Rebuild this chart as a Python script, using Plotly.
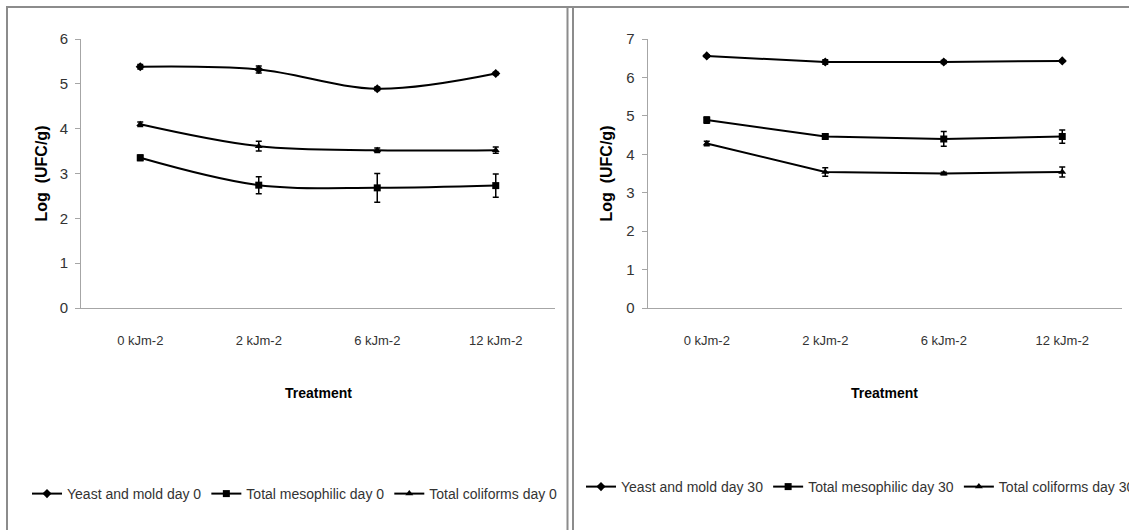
import plotly.graph_objects as go

W, H = 1129, 530

categories = ["0 kJm-2", "2 kJm-2", "6 kJm-2", "12 kJm-2"]

# Day 0 panel
yeast_d0 = [5.38, 5.32, 4.89, 5.23]
yeast_d0_err = [0.05, 0.08, 0.04, 0.03]
meso_d0 = [3.35, 2.74, 2.68, 2.73]
meso_d0_err = [0.06, 0.19, 0.32, 0.26]
coli_d0 = [4.10, 3.61, 3.52, 3.52]
coli_d0_err = [0.05, 0.11, 0.05, 0.07]

# Day 30 panel
yeast_d30 = [6.56, 6.40, 6.40, 6.43]
yeast_d30_err = [0.03, 0.06, 0.04, 0.02]
meso_d30 = [4.89, 4.46, 4.40, 4.46]
meso_d30_err = [0.08, 0.05, 0.19, 0.17]
coli_d30 = [4.28, 3.54, 3.50, 3.54]
coli_d30_err = [0.06, 0.11, 0.03, 0.13]

FONT = "Liberation Sans, Arial, sans-serif"
TXT = "#333333"
AX = "#a6a6a6"


def px(x):
    return x / W


def py(y):
    return 1 - y / H


fig = go.Figure()


def add(name, y, err, symbol, xa, ya, legend, shape):
    fig.add_trace(go.Scatter(
        x=categories, y=y, name=name, mode="lines+markers",
        xaxis=xa, yaxis=ya, legend=legend,
        line=dict(color="black", width=2, shape=shape),
        marker=dict(symbol=symbol, size=7, color="black"),
        error_y=dict(type="data", array=err, visible=True, color="black",
                     thickness=1.5, width=3),
    ))


add("Yeast and mold day 0", yeast_d0, yeast_d0_err, "diamond", "x", "y", "legend", "spline")
add("Total mesophilic day 0", meso_d0, meso_d0_err, "square", "x", "y", "legend", "spline")
add("Total coliforms day 0", coli_d0, coli_d0_err, "triangle-up", "x", "y", "legend", "spline")
add("Yeast and mold day 30", yeast_d30, yeast_d30_err, "diamond", "x2", "y2", "legend2", "linear")
add("Total mesophilic day 30", meso_d30, meso_d30_err, "square", "x2", "y2", "legend2", "linear")
add("Total coliforms day 30", coli_d30, coli_d30_err, "triangle-up", "x2", "y2", "legend2", "linear")

xcommon = dict(showgrid=False, showline=True, linecolor=AX, linewidth=1,
               ticks="", range=[-0.5, 3.5], zeroline=False,
               tickfont=dict(family=FONT, size=13, color=TXT),
               ticklabelstandoff=20, fixedrange=True)
ycommon = dict(showgrid=False, showline=True, linecolor=AX, linewidth=1,
               ticks="outside", ticklen=5, tickcolor=AX, zeroline=False,
               tickfont=dict(family=FONT, size=15, color=TXT),
               ticklabelstandoff=4, dtick=1, fixedrange=True)

ydom = [py(308), py(39)]

legend_common = dict(orientation="h", xanchor="left", yanchor="middle",
                     font=dict(family=FONT, size=14, color=TXT),
                     bgcolor="rgba(0,0,0,0)", itemwidth=30,
                     tracegroupgap=0, traceorder="normal")

title_font = dict(family=FONT, size=14, color="black")
ytitle_font = dict(family=FONT, size=16, color="black")

fig.update_layout(
    width=W, height=H,
    margin=dict(l=0, r=0, t=0, b=0, autoexpand=False),
    plot_bgcolor="white", paper_bgcolor="white",
    xaxis=dict(domain=[px(81), px(555)], anchor="y", **xcommon),
    yaxis=dict(domain=ydom, anchor="x", range=[0, 6], **ycommon),
    xaxis2=dict(domain=[px(647.5), px(1121.5)], anchor="y2", **xcommon),
    yaxis2=dict(domain=ydom, anchor="x2", range=[0, 7], **ycommon),
    legend=dict(x=px(27), y=py(494), **legend_common),
    legend2=dict(x=px(581), y=py(487), **legend_common),
    showlegend=True,
    annotations=[
        dict(text="<b>Log  (UFC/g)</b>", x=px(41), y=py(173.5), xref="paper", yref="paper",
             xanchor="center", yanchor="middle", textangle=-90, showarrow=False, font=ytitle_font),
        dict(text="<b>Log  (UFC/g)</b>", x=px(606), y=py(173.5), xref="paper", yref="paper",
             xanchor="center", yanchor="middle", textangle=-90, showarrow=False, font=ytitle_font),
        dict(text="<b>Treatment</b>", x=px(318), y=py(393), xref="paper", yref="paper",
             xanchor="center", yanchor="middle", showarrow=False, font=title_font),
        dict(text="<b>Treatment</b>", x=px(884.5), y=py(393), xref="paper", yref="paper",
             xanchor="center", yanchor="middle", showarrow=False, font=title_font),
    ],
    shapes=[
        dict(type="line", xref="paper", yref="paper", x0=px(7), x1=px(7), y0=py(7), y1=py(540), line=dict(color="#8c8c8c", width=2)),
        dict(type="line", xref="paper", yref="paper", x0=px(6), x1=px(1135), y0=py(7), y1=py(7), line=dict(color="#8c8c8c", width=2)),
        dict(type="line", xref="paper", yref="paper", x0=px(567.5), x1=px(567.5), y0=py(7), y1=py(540), line=dict(color="#8c8c8c", width=2)),
        dict(type="line", xref="paper", yref="paper", x0=px(573), x1=px(573), y0=py(7), y1=py(540), line=dict(color="#8c8c8c", width=2)),
    ],
)

fig.write_html("out.html", config={"displayModeBar": False},
               post_script="document.body.style.margin='0';")
